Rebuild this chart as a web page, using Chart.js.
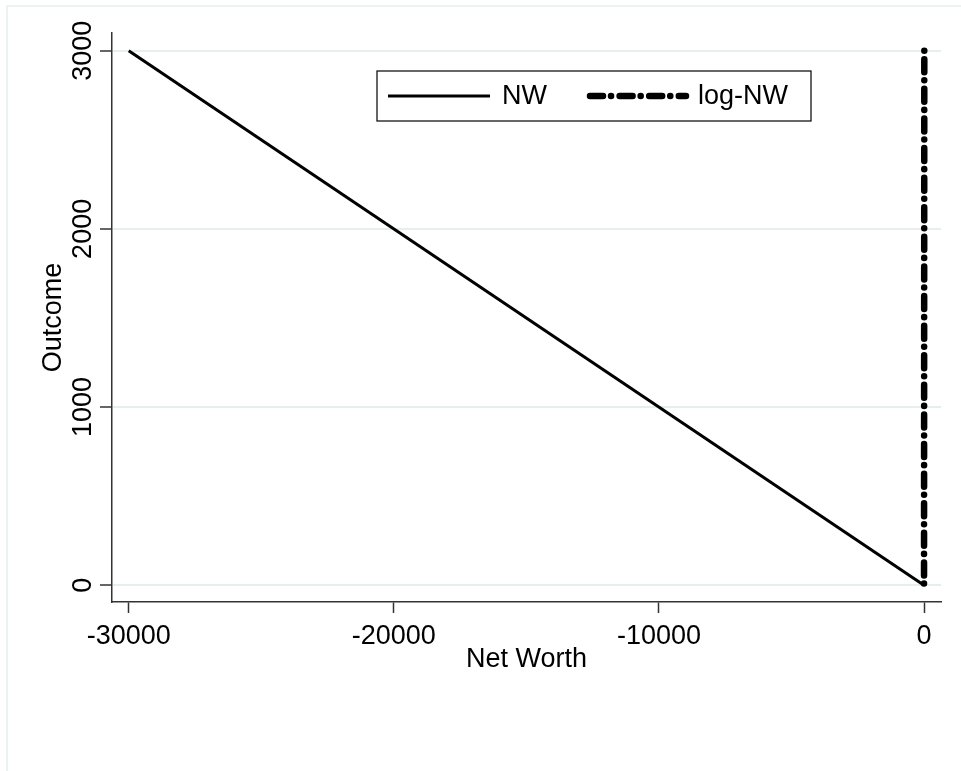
<!DOCTYPE html>
<html>
<head>
<meta charset="utf-8">
<script src="https://cdn.jsdelivr.net/npm/chart.js@4/dist/chart.umd.min.js"></script>
<style>
  html, body { margin: 0; padding: 0; background: #fff; }
  #wrap { width: 961px; height: 771px; }
</style>
</head>
<body>
<div id="wrap"><canvas id="chart" width="961" height="771"></canvas></div>
<script>
'use strict'

// データ
const outcome = [3000, 0];
const netWorth = [-30000, 0];
const logOutcome = [3000, 0];
const logNetWorth = [10.3, 0];
const xTickValues = [-30000, -20000, -10000, 0];
const yTickValues = [0, 1000, 2000, 3000];
const seriesNames = ["NW", "log-NW"];

const FONT = "'Liberation Sans', Arial, sans-serif";

function toPoints(xs, ys) {
    return xs.map((x, i) => ({ x: x, y: ys[i] }));
}

// 外枠と凡例を描くプラグイン
const framePlugin = {
    id: 'frame',
    beforeDraw(chart) {
        const ctx = chart.ctx;
        ctx.save();
        ctx.fillStyle = '#ffffff';
        ctx.fillRect(0, 0, chart.width, chart.height);
        ctx.strokeStyle = '#e6eef0';
        ctx.lineWidth = 1.5;
        ctx.strokeRect(7, 6, chart.width + 20, chart.height + 20);
        ctx.restore();
    },
    afterDraw(chart) {
        const ctx = chart.ctx;
        const ds = chart.data.datasets;
        const box = { x: 377, y: 71, w: 434, h: 50 };
        ctx.save();
        ctx.fillStyle = '#ffffff';
        ctx.fillRect(box.x, box.y, box.w, box.h);
        ctx.strokeStyle = '#000';
        ctx.lineWidth = 1.2;
        ctx.strokeRect(box.x, box.y, box.w, box.h);

        const cy = box.y + box.h / 2;
        const items = [
            { x0: 388, x1: 490, tx: 502, offset: 0 },
            { x0: 590, x1: 686, tx: 698, offset: 8.6 }
        ];
        items.forEach((it, i) => {
            ctx.beginPath();
            ctx.strokeStyle = ds[i].borderColor;
            ctx.lineWidth = ds[i].borderWidth;
            ctx.lineCap = ds[i].borderCapStyle || 'butt';
            ctx.setLineDash(ds[i].borderDash || []);
            ctx.lineDashOffset = it.offset;
            ctx.moveTo(it.x0, cy);
            ctx.lineTo(it.x1, cy);
            ctx.stroke();
            ctx.setLineDash([]);
            ctx.fillStyle = '#000';
            ctx.font = '27px ' + FONT;
            ctx.textBaseline = 'middle';
            ctx.textAlign = 'left';
            ctx.fillText(seriesNames[i], it.tx, cy + 1);
        });
        ctx.restore();
    }
};

const ctx = document.getElementById('chart');

new Chart(ctx, {
    type: 'line',
    data: {
        datasets: [
            {
                label: seriesNames[0],
                data: toPoints(netWorth, outcome),
                borderColor: '#000',
                borderWidth: 3,
                pointRadius: 0,
                tension: 0
            },
            {
                label: seriesNames[1],
                data: toPoints(logNetWorth, logOutcome),
                borderColor: '#000',
                borderWidth: 6.5,
                borderCapStyle: 'round',
                borderDash: [0.1, 8.5, 13, 8],
                pointRadius: 0,
                tension: 0
            }
        ]
    },
    options: {
        responsive: false,
        animation: false,
        layout: { padding: { left: 0, top: 33, right: 20, bottom: 95 } },
        plugins: {
            legend: { display: false },
            tooltip: { enabled: false }
        },
        scales: {
            x: {
                type: 'linear',
                min: -30630,
                max: 640,
                afterBuildTicks(scale) { scale.ticks = xTickValues.map(v => ({ value: v })); },
                afterFit(scale) { scale.height = 74; },
                grid: {
                    drawOnChartArea: false,
                    tickLength: 11,
                    tickColor: '#333',
                    tickWidth: 1.5
                },
                border: { display: true, color: '#333', width: 1.5 },
                ticks: {
                    color: '#000',
                    padding: 7,
                    maxRotation: 0,
                    font: { family: FONT, size: 27 },
                    callback: v => String(v)
                },
                title: {
                    display: true,
                    text: 'Net Worth',
                    color: '#000',
                    font: { family: FONT, size: 27 },
                    padding: { top: 0, bottom: 0 }
                }
            },
            y: {
                type: 'linear',
                min: -94,
                max: 3099,
                afterBuildTicks(scale) { scale.ticks = yTickValues.map(v => ({ value: v })); },
                afterFit(scale) { scale.width = 112; },
                grid: {
                    color: '#e6eef0',
                    lineWidth: 2,
                    tickLength: 12,
                    tickColor: '#333',
                    tickWidth: 1.5
                },
                border: { display: true, color: '#333', width: 1.5 },
                ticks: {
                    color: '#000',
                    padding: -14,
                    minRotation: 90,
                    maxRotation: 90,
                    crossAlign: 'center',
                    font: { family: FONT, size: 27 },
                    callback: v => String(v)
                },
                title: {
                    display: true,
                    text: 'Outcome',
                    color: '#000',
                    font: { family: FONT, size: 27 },
                    padding: { top: 37, bottom: 0 }
                }
            }
        }
    },
    plugins: [framePlugin]
});
</script>
</body>
</html>
